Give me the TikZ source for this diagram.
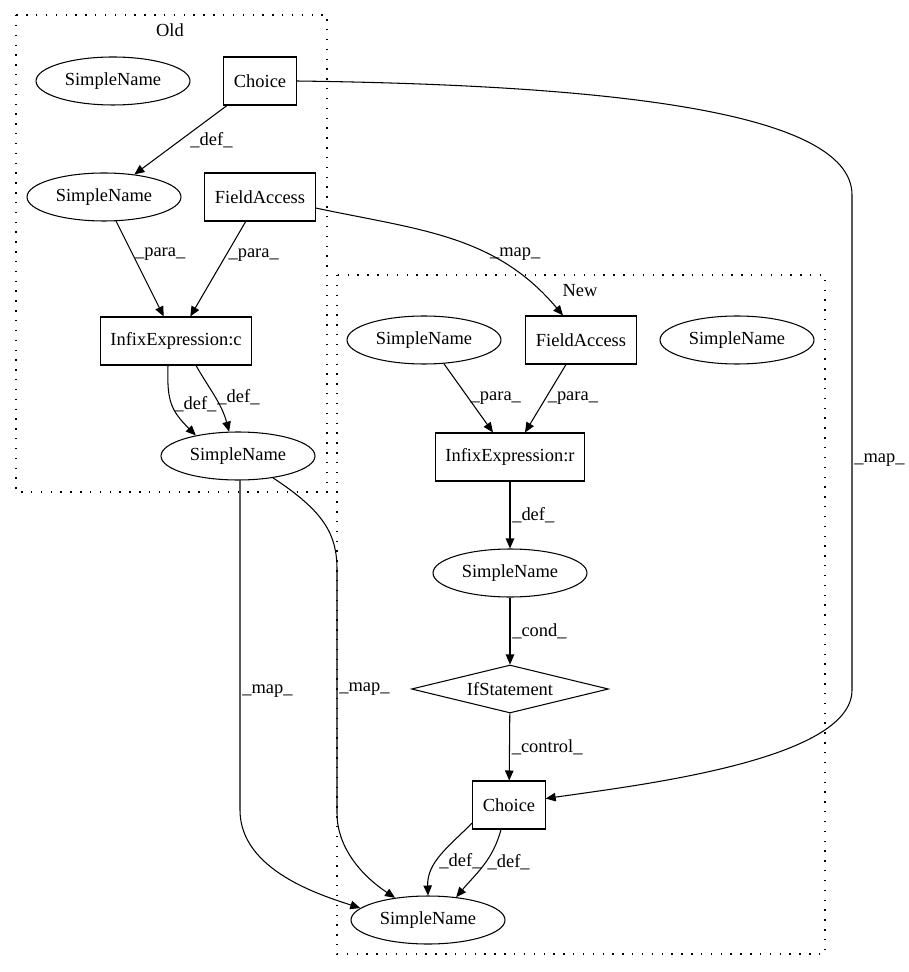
\documentclass[tikz,border=0pt]{standalone}
\usepackage{fontspec}
\setmainfont{Liberation Serif}
\usetikzlibrary{shapes.geometric,arrows.meta}

\begin{document}
\begin{tikzpicture}[
    x=0.02cm, y=-0.02cm,
    font=\fontsize{10.5}{12.6}\selectfont,
    box/.style={draw, rectangle, line width=0.6pt, minimum height=0.96cm, inner xsep=0.2cm},
    ent/.style={draw, ellipse, line width=0.6pt, minimum width=3.08cm, minimum height=0.96cm, inner sep=0pt},
    cond/.style={draw, diamond, line width=0.6pt, shape aspect=4.1, minimum width=3.94cm, minimum height=0.96cm, inner sep=0pt},
    flow/.style={-{Triangle[length=0.2cm, width=0.17cm]}, line width=0.6pt},
    lbl/.style={anchor=west, inner sep=1pt},
    cluster/.style={line width=0.8pt, dash pattern=on 0.8pt off 4.8pt}
]
    \useasboundingbox (0,0) rectangle (908,972);

    % --- CLUSTERS ---
    \draw[cluster] (16,15) rectangle (327,492);
    \node (oldTitle) at (170,30) {Old};
    \draw[cluster] (337,275) rectangle (825,954);
    \node (newTitle) at (580,291) {New};

    % --- OLD ---
    \node[ent] (snOldIso) at (113,81) {SimpleName};
    \node[box] (choiceOld) at (260,81) {Choice};
    \node[ent] (snOldDef) at (104,197) {SimpleName};
    \node[box] (faOld) at (260,197) {FieldAccess};
    \node[box] (infixC) at (176,341) {InfixExpression:c};
    \node[ent] (snOldOut) at (238,456) {SimpleName};

    % --- NEW ---
    \node[ent] (snNewL) at (424,340) {SimpleName};
    \node[box] (faNew) at (581,340) {FieldAccess};
    \node[ent] (snNewIso) at (737,340) {SimpleName};
    \node[box] (infixR) at (510,457) {InfixExpression:r};
    \node[ent] (snNewDef) at (510,573) {SimpleName};
    \node[cond] (ifStmt) at (510,689) {IfStatement};
    \node[box] (choiceNew) at (509,805) {Choice};
    \node[ent] (snNewOut) at (428,920) {SimpleName};

    % --- EDGES INSIDE OLD ---
    \draw[flow] (choiceOld) -- node[lbl, xshift=0.15cm] {\_def\_} (snOldDef);
    \draw[flow] (snOldDef) -- node[lbl, pos=0.35] {\_para\_} (infixC);
    \draw[flow] (faOld) -- node[lbl, pos=0.35] {\_para\_} (infixC);
    \draw[flow] ([xshift=-0.16cm]infixC.south) to[out=-92, in=135, looseness=1.2] node[lbl] {\_def\_} (snOldOut.154);
    \draw[flow] ([xshift=0.4cm]infixC.south) to[out=-60, in=105] node[lbl] {\_def\_} (snOldOut.110);

    % --- EDGES INSIDE NEW ---
    \draw[flow] (snNewL.-50) -- node[lbl] {\_para\_} ([xshift=-0.34cm]infixR.north);
    \draw[flow] ([xshift=-0.3cm]faNew.south) -- node[lbl] {\_para\_} ([xshift=0.3cm]infixR.north);
    \draw[flow] (infixR) -- node[lbl] {\_def\_} (snNewDef);
    \draw[flow] (snNewDef) -- node[lbl] {\_cond\_} (ifStmt);
    \draw[flow] (ifStmt) -- node[lbl] {\_control\_} (choiceNew);
    \draw[flow] (choiceNew.206) to[out=-135, in=92] node[lbl, pos=0.58] {\_def\_} (snNewOut.north);
    \draw[flow] ([xshift=-0.16cm]choiceNew.south) to[out=-105, in=50] node[lbl, pos=0.45] {\_def\_} (snNewOut.39);

    % --- MAP EDGES ---
    \draw[flow] ([yshift=-0.22cm]faOld.east) to[out=-12, in=130] node[lbl, pos=0.65] {\_map\_} ([xshift=-0.36cm]faNew.north);
    \draw[flow] (choiceOld.east) .. controls (600,85) and (852,110) .. (852,195)
        -- node[lbl, pos=0.535] {\_map\_} (852,690)
        .. controls (852,760) and (640,785) .. (choiceNew.10);
    \draw[flow] ([xshift=0.04cm]snOldOut.south) -- node[lbl, pos=0.64] {\_map\_} (240,810)
        .. controls (240,870) and (320,895) .. (snNewOut.170);
    \draw[flow] (snOldOut.-32) .. controls (325,512) and (337,535) .. (337,570)
        -- node[lbl, pos=0.49] {\_map\_} (337,813)
        .. controls (337,850) and (365,878) .. (snNewOut.146);
\end{tikzpicture}
\end{document}
